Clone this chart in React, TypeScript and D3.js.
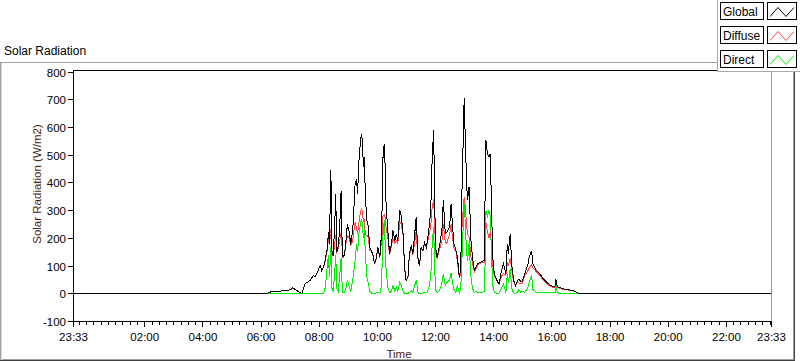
import React from "react";
import * as d3 from "d3";

// minutes from midnight (-27 = 23:33 of the previous day)
const TIMES = [-27, 371, 377, 389, 401, 412, 420, 425, 430, 436, 444,
  448, 451, 456, 461, 465, 468, 471, 475, 479, 482,
  485, 488, 491, 493, 496, 499, 501, 504, 506, 509,
  513, 514, 516, 519, 522, 525, 527, 529, 532, 535,
  538, 541, 545, 547, 550, 554, 557, 559, 562, 565,
  567, 569, 571, 573, 575, 578, 581, 584, 587, 591,
  594, 598, 601, 605, 607, 609, 611, 614, 616, 618,
  622, 625, 629, 632, 636, 639, 642, 646, 649, 653,
  656, 659, 663, 666, 670, 673, 677, 680, 684, 687,
  690, 694, 697, 701, 706, 710, 713, 716, 718, 720,
  723, 726, 730, 733, 736, 740, 743, 749, 752, 755,
  758, 762, 765, 769, 772, 774, 776, 779, 781, 784,
  786, 789, 793, 796, 800, 803, 807, 813, 820, 822,
  824, 827, 830, 833, 835, 838, 841, 844, 848, 851,
  856, 860, 865, 868, 870, 874, 877, 881, 885, 889,
  892, 896, 899, 904, 910, 913, 918, 921, 928, 935,
  942, 949, 956, 962, 967, 968, 971, 983, 997, 1007, 1016, 1413];

const GLOBAL = [0, 0, 6, 8, 10, 12, 14, 22, 16, 9, 2,
  20, 37, 42, 48, 58, 66, 62, 72, 90, 102,
  84, 95, 108, 130, 156, 222, 180, 447, 156, 138,
  300, 361, 150, 170, 230, 370, 200, 133, 140, 190,
  250, 230, 180, 200, 255, 398, 409, 360, 481, 553,
  577, 553, 457, 493, 361, 264, 247, 168, 156, 140,
  108, 132, 168, 132, 180, 240, 481, 541, 457, 313,
  217, 144, 181, 229, 192, 217, 192, 301, 283, 217,
  96, 48, 60, 144, 174, 144, 217, 277, 120, 102,
  168, 156, 186, 168, 229, 301, 493, 590, 349, 168,
  132, 156, 192, 229, 337, 217, 222, 240, 325, 240,
  181, 156, 132, 60, 96, 337, 481, 705, 578, 397,
  337, 385, 192, 132, 84, 96, 108, 114, 120, 337,
  553, 505, 493, 505, 337, 132, 72, 60, 42, 36,
  84, 108, 72, 181, 144, 217, 108, 48, 30, 48,
  54, 42, 48, 72, 102, 132, 154, 108, 84, 72,
  54, 42, 32, 26, 28, 54, 26, 18, 14, 9, 0, 0];

const DIFFUSE = [0, 0, 6, 8, 10, 12, 14, 20, 16, 9, 2,
  20, 37, 42, 48, 58, 66, 62, 72, 90, 102,
  84, 95, 105, 125, 150, 200, 175, 235, 150, 135,
  200, 210, 145, 165, 190, 220, 170, 130, 138, 180,
  210, 205, 175, 180, 205, 260, 235, 215, 260, 295,
  305, 300, 260, 265, 215, 210, 207, 158, 153, 138,
  106, 129, 163, 130, 170, 185, 280, 285, 275, 235,
  197, 139, 173, 199, 182, 192, 182, 258, 253, 209,
  94, 48, 59, 139, 164, 139, 187, 227, 117, 100,
  165, 154, 181, 165, 209, 241, 313, 340, 260, 153,
  127, 148, 172, 189, 250, 187, 182, 215, 250, 200,
  166, 151, 115, 57, 76, 227, 281, 350, 318, 247,
  217, 205, 132, 112, 79, 88, 103, 111, 112, 237,
  255, 225, 200, 225, 187, 102, 67, 57, 40, 34,
  64, 73, 67, 111, 104, 127, 88, 45, 28, 43,
  39, 37, 38, 67, 82, 92, 105, 93, 79, 66,
  49, 37, 28, 23, 25, 24, 23, 16, 13, 9, 0, 0];

const DIRECT = [0, 0, 0, 0, 0, 0, 0, 0, 0, 0, 0,
  0, 0, 0, 0, 0, 0, 0, 0, 0, 0,
  0, 0, 10, 30, 90, 140, 60, 170, 20, 10,
  110, 140, 20, 8, 60, 130, 40, 5, 5, 20,
  50, 30, 10, 30, 60, 120, 180, 150, 220, 250,
  270, 250, 200, 230, 150, 60, 40, 10, 3, 2,
  2, 3, 5, 2, 10, 60, 200, 265, 180, 80,
  20, 5, 8, 30, 10, 25, 10, 40, 30, 8,
  2, 0, 1, 5, 10, 5, 30, 50, 3, 2,
  3, 2, 5, 3, 20, 60, 180, 240, 100, 15,
  5, 8, 20, 40, 72, 30, 40, 50, 75, 40,
  15, 5, 30, 3, 20, 110, 200, 340, 260, 150,
  120, 180, 60, 20, 5, 8, 5, 3, 8, 100,
  300, 280, 300, 280, 150, 30, 5, 3, 2, 2,
  20, 35, 5, 70, 40, 90, 20, 3, 2, 5,
  15, 5, 10, 5, 20, 40, 66, 15, 5, 6,
  5, 5, 4, 3, 3, 36, 3, 2, 1, 0, 0, 0];

const X_TICK_MINUTES = [-27, 120, 240, 360, 480, 600, 720, 840, 960, 1080, 1200, 1320, 1413];
const X_TICK_LABELS = ["23:33", "02:00", "04:00", "06:00", "08:00", "10:00", "12:00", "14:00", "16:00", "18:00", "20:00", "22:00", "23:33"];
const Y_TICKS = [-100, 0, 100, 200, 300, 400, 500, 600, 700, 800];

const SERIES_NAMES = ["Global", "Diffuse", "Direct"];
const SERIES_COLORS = ["#000000", "#ff4848", "#00ee00"];

const FONT = "'Liberation Sans', Arial, sans-serif";
const TITLE_COLOR = "#4a2410";

export default function App() {
  const W = 800, H = 361;
  const left = 73.5, right = 771.5, top = 70.5, bottom = 321.5;
  const x = d3.scaleLinear().domain([-27, 1413]).range([left, right]);
  const y = d3.scaleLinear().domain([-100, 800]).range([bottom, 72]);

  const mk = (vals: number[]) =>
    d3.line<number>()
      .x((_, i) => x(TIMES[i]))
      .y((v) => y(v))(vals) || "";

  const seriesVals = [GLOBAL, DIFFUSE, DIRECT];
  const drawOrder = [2, 1, 0];

  const minor: number[] = [];
  for (let t = -15; t <= 1410; t += 15) {
    if (t >= 120 && t <= 1320 && t % 120 === 0) continue;
    minor.push(t);
  }
  const px = (t: number) => Math.floor(x(t)) + 0.5;
  const py = (v: number) => Math.floor(y(v)) + 0.5;

  return (
    <svg width={W} height={H} style={{ position: "absolute", left: 0, top: 0, background: "#fff" }}
      fontFamily={FONT}>
      <rect x={0} y={0} width={W} height={H} fill="#ffffff" />
      {/* panel title */}
      <text x={4} y={55} fontSize={12} fill="#000">Solar Radiation</text>
      {/* panel border */}
      <line x1={0} x2={717} y1={62.5} y2={62.5} stroke="#a0a0a0" />
      <line x1={0.5} x2={0.5} y1={62} y2={361} stroke="#a0a0a0" />
      <line x1={1.5} x2={1.5} y1={63} y2={359} stroke="#d8d8d8" />
      <line x1={0} x2={795} y1={360.5} y2={360.5} stroke="#404040" />
      <line x1={2} x2={794} y1={359.5} y2={359.5} stroke="#a0a0a0" />
      <line x1={794.5} x2={794.5} y1={62} y2={361} stroke="#404040" />
      <line x1={793.5} x2={793.5} y1={63} y2={360} stroke="#a0a0a0" />

      <defs>
        <clipPath id="plotclip">
          <rect x={left} y={top} width={right - left} height={bottom - top + 1} />
        </clipPath>
      </defs>

      {/* data */}
      <g clipPath="url(#plotclip)">
        {drawOrder.map((k) => (
          <path key={k} d={mk(seriesVals[k])} fill="none" stroke={SERIES_COLORS[k]}
            strokeWidth={1} shapeRendering="crispEdges" />
        ))}
      </g>

      {/* frame */}
      <line x1={right} x2={right} y1={top} y2={bottom} stroke="#9a9a9a" shapeRendering="crispEdges" />
      <line x1={73} x2={772} y1={top} y2={top} stroke="#000" shapeRendering="crispEdges" />
      <line x1={left} x2={left} y1={70} y2={322} stroke="#000" shapeRendering="crispEdges" />
      <line x1={73} x2={772} y1={bottom} y2={bottom} stroke="#000" shapeRendering="crispEdges" />

      {/* y axis */}
      {Y_TICKS.map((v) => (
        <g key={v}>
          <line x1={68} x2={73} y1={py(v)} y2={py(v)} stroke="#000" shapeRendering="crispEdges" />
          <text x={66} y={py(v) + 4} fontSize={11.5} textAnchor="end" fill="#000">{v}</text>
        </g>
      ))}
      <text transform={`translate(41,184) rotate(-90)`} fontSize={11.5} textAnchor="middle" fill={TITLE_COLOR}>
        Solar Radiation (W/m2)
      </text>

      {/* x axis */}
      {minor.map((t) => (
        <line key={"m" + t} x1={px(t)} x2={px(t)} y1={322} y2={325} stroke="#000" shapeRendering="crispEdges" />
      ))}
      {X_TICK_MINUTES.map((t, i) => (
        <g key={"M" + i}>
          <line x1={px(t)} x2={px(t)} y1={322} y2={327} stroke="#000" shapeRendering="crispEdges" />
          <text x={x(t)} y={341} fontSize={11.5} textAnchor="middle" fill="#000">{X_TICK_LABELS[i]}</text>
        </g>
      ))}
      <text x={399} y={358} fontSize={11.5} textAnchor="middle" fill={TITLE_COLOR}>Time</text>

      {/* legend */}
      <rect x={717.5} y={-1} width={90} height={72.5} fill="#fff" stroke="#a8a8a8" shapeRendering="crispEdges" />
      {SERIES_NAMES.map((n, i) => {
        const ry = 2 + i * 24;
        return (
          <g key={n}>
            <rect x={720.5} y={ry + 0.5} width={43} height={17} fill="#fff" stroke="#000" shapeRendering="crispEdges" />
            <text x={723} y={ry + 14} fontSize={12} fill="#000">{n}</text>
            <rect x={767.5} y={ry + 0.5} width={29} height={17} fill="#fff" stroke="#000" shapeRendering="crispEdges" />
            <polyline points={`770,${ry + 14.5} 778,${ry + 5.5} 786,${ry + 14.5} 794,${ry + 5.5}`}
              fill="none" stroke={SERIES_COLORS[i]} strokeWidth={1} />
          </g>
        );
      })}
    </svg>
  );
}
